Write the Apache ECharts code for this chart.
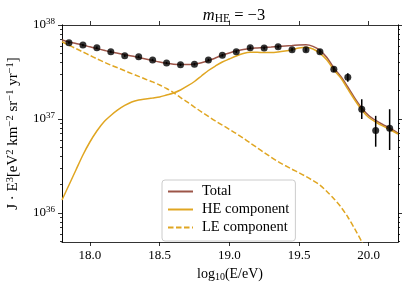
<!DOCTYPE html>
<html><head><meta charset="utf-8">
<script src="https://cdn.jsdelivr.net/npm/echarts@6/dist/echarts.min.js"></script>
<style>html,body{margin:0;padding:0;background:#fff}#c{width:407px;height:288px}</style>
</head><body><div id="c"></div>
<script>
// ---- data ----
const obsLogE = [17.85,17.95,18.05,18.15,18.25,18.35,18.45,18.55,18.65,18.75,18.85,18.95,19.05,19.15,19.25,19.35,19.45,19.55,19.65,19.75,19.85,19.95,20.05,20.15];
const obsFlux = [6.48e37,6.12e37,5.73e37,5.20e37,4.71e37,4.60e37,4.25e37,3.94e37,3.78e37,3.82e37,4.25e37,4.76e37,5.20e37,5.73e37,5.69e37,5.87e37,5.46e37,5.46e37,5.20e37,3.38e37,2.78e37,1.27e37,7.52e36,7.96e36];
const obsErrLo = [6.3e37,5.95e37,5.57e37,5.06e37,4.58e37,4.47e37,4.13e37,3.83e37,3.67e37,3.71e37,4.12e37,4.61e37,5.03e37,5.53e37,5.48e37,5.64e37,5.22e37,5.20e37,4.92e37,3.17e37,2.49e37,1.00e37,5.07e36,4.68e36];
const obsErrHi = [6.66e37,6.29e37,5.89e37,5.34e37,4.84e37,4.73e37,4.37e37,4.05e37,3.89e37,3.93e37,4.38e37,4.91e37,5.37e37,5.93e37,5.90e37,6.10e37,5.70e37,5.72e37,5.48e37,3.60e37,3.06e37,1.62e37,1.08e37,1.27e37];

const modelLogE = [17.80,17.85,17.90,17.95,18.00,18.05,18.10,18.15,18.20,18.25,18.30,18.35,18.40,18.45,18.50,18.55,18.60,18.65,18.70,18.75,18.80,18.85,18.90,18.95,19.00,19.05,19.10,19.15,19.20,19.25,19.30,19.35,19.40,19.45,19.50,19.55,19.60,19.65,19.70,19.75,19.80,19.85,19.90,19.95,20.00,20.05,20.10,20.15,20.21];
const totalFlux = [6.92e37,6.59e37,6.35e37,6.12e37,5.86e37,5.62e37,5.39e37,5.16e37,5.00e37,4.83e37,4.68e37,4.51e37,4.35e37,4.19e37,4.04e37,3.92e37,3.83e37,3.79e37,3.79e37,3.85e37,3.97e37,4.17e37,4.46e37,4.76e37,5.04e37,5.29e37,5.48e37,5.62e37,5.70e37,5.77e37,5.83e37,5.90e37,5.98e37,6.05e37,6.14e37,6.15e37,5.93e37,5.38e37,4.51e37,3.49e37,2.83e37,2.19e37,1.67e37,1.31e37,1.089e37,9.64e36,8.74e36,8.02e36,7.05e36];
const heFlux = [1.374e36,1.986e36,2.866e36,4.14e36,5.69e36,7.45e36,9.29e36,1.089e37,1.247e37,1.393e37,1.518e37,1.593e37,1.633e37,1.672e37,1.714e37,1.799e37,1.890e37,2.035e37,2.245e37,2.506e37,2.866e37,3.28e37,3.66e37,4.04e37,4.35e37,4.68e37,4.98e37,5.14e37,5.13e37,5.09e37,5.09e37,5.16e37,5.29e37,5.46e37,5.69e37,5.78e37,5.56e37,5.00e37,4.25e37,3.32e37,2.73e37,2.08e37,1.593e37,1.247e37,1.038e37,9.29e36,8.43e36,7.73e36,6.92e36];

const leLogE = [17.80,17.85,17.90,17.95,18.00,18.05,18.10,18.15,18.20,18.25,18.30,18.35,18.40,18.45,18.50,18.55,18.60,18.65,18.70,18.75,18.80,18.85,18.90,18.95,19.00,19.05,19.10,19.15,19.20,19.25,19.30,19.35,19.40,19.45,19.50,19.55,19.60,19.65,19.70,19.75,19.80,19.85,19.90,19.95,20.00];
const leFlux = [6.64e37,6.09e37,5.61e37,5.16e37,4.75e37,4.37e37,4.04e37,3.75e37,3.50e37,3.26e37,3.04e37,2.84e37,2.65e37,2.48e37,2.30e37,2.11e37,1.91e37,1.69e37,1.51e37,1.34e37,1.19e37,1.064e37,9.53e36,8.60e36,7.77e36,7.00e36,6.25e36,5.56e36,4.94e36,4.39e36,3.92e36,3.52e36,3.20e36,2.92e36,2.68e36,2.44e36,2.21e36,1.98e36,1.69e36,1.42e36,1.16e36,9.06e35,6.76e35,4.95e35,3.49e35];

const xTicks = [18.0,18.5,19.0,19.5,20.0];
const yMajor = [1e36,1e37,1e38];
const yMinor = [5e35,6e35,7e35,8e35,9e35,2e36,3e36,4e36,5e36,6e36,7e36,8e36,9e36,2e37,3e37,4e37,5e37,6e37,7e37,8e37,9e37];
const seriesNames = ['Total','HE component','LE component'];

// ---- chart ----
const FF = "'Liberation Serif','DejaVu Serif',serif";
const C_TOTAL = '#9c5548', C_HE = '#e0a622';
const XMIN = 17.8, XMAX = 20.21, YMIN = 4.91e35, YMAX = 1e38;
const zip = (a,b) => a.map((v,i)=>[v,b[i]]);

function yAxisDef(pos, major, labels){
  return {
    type:'log', logBase:10, min:YMIN, max:YMAX, position:pos,
    axisLine:{show:true, onZero:false, lineStyle:{color:'#000', width:0.8}},
    axisTick:{show:true, inside:false, length: major?4:2, customValues: major?yMajor:yMinor, lineStyle:{color:'#000', width:0.8}},
    axisLabel:{show:labels, customValues: yMajor, margin:7, color:'#000', fontFamily:FF, fontSize:13,
      formatter: v => '{b|10}{s|' + Math.round(Math.log10(v)) + '}',
      rich:{ b:{fontFamily:FF, fontSize:13, color:'#000', lineHeight:16}, s:{fontFamily:FF, fontSize:9, color:'#000', verticalAlign:'top', lineHeight:9} } },
    splitLine:{show:false}, minorTick:{show:false}, minorSplitLine:{show:false},
    name: labels ? '{n|J · E}{s|3}{n|[eV}{s|2}{n| km}{s|−2}{n| sr}{s|−1}{n| yr}{s|−1}{n|]}' : '',
    nameLocation:'middle', nameGap:40,
    nameTextStyle:{ rich:{ n:{fontFamily:FF, fontSize:15, color:'#000', lineHeight:17}, s:{fontFamily:FF, fontSize:10.5, color:'#000', verticalAlign:'top', lineHeight:10} } }
  };
}
function xAxisDef(pos, labels){
  return {
    type:'value', min:XMIN, max:XMAX, position:pos,
    axisLine:{show:true, onZero:false, lineStyle:{color:'#000', width:0.8}},
    axisTick:{show:true, inside:false, length:4, customValues:xTicks, lineStyle:{color:'#000', width:0.8}},
    axisLabel:{show:labels, customValues:xTicks, margin:7, color:'#000', fontFamily:FF, fontSize:13, formatter: v => v.toFixed(1)},
    splitLine:{show:false},
    name: labels ? '{n|log}{b|10}{n|(E/eV)}' : '',
    nameLocation:'middle', nameGap:20,
    nameTextStyle:{ rich:{ n:{fontFamily:FF, fontSize:14, color:'#000', lineHeight:17}, b:{fontFamily:FF, fontSize:10, color:'#000', verticalAlign:'bottom', lineHeight:10} } }
  };
}

const chart = echarts.init(document.getElementById('c'), null, {renderer:'canvas', width:407, height:288});
chart.setOption({
  backgroundColor:'#fff',
  animation:false,
  title:{
    text:'{i|m}{s|HE}{n| = −3}', left:229, top:2, textAlign:'center',
    textStyle:{ fontWeight:'normal', rich:{ i:{fontFamily:FF, fontStyle:'italic', fontWeight:'normal', fontSize:16.5, color:'#000', lineHeight:18}, s:{fontFamily:FF, fontWeight:'normal', fontSize:11.5, color:'#000', verticalAlign:'bottom', lineHeight:12}, n:{fontFamily:FF, fontWeight:'normal', fontSize:16.5, color:'#000', lineHeight:18} } }
  },
  grid:{left:62, right:9, top:25, bottom:46, containLabel:false, outerBoundsMode:'none'},
  xAxis:[xAxisDef('bottom', true), xAxisDef('top', false)],
  yAxis:[yAxisDef('left', true, true), yAxisDef('left', false, false), yAxisDef('right', true, false), yAxisDef('right', false, false)],
  legend:{
    data:seriesNames, orient:'vertical', left:162, top:180,
    padding:[4,6,6,5], itemGap:3, itemWidth:25, itemHeight:14,
    itemStyle:{opacity:0},
    backgroundColor:'rgba(255,255,255,0.85)', borderColor:'#cccccc', borderWidth:1, borderRadius:3,
    textStyle:{fontFamily:FF, fontSize:14.5, color:'#000', padding:[0,0,0,4], lineHeight:14},
    selectedMode:false
  },
  series:[
    {name:'Total', type:'line', data:zip(modelLogE,totalFlux), symbol:'none', smooth:0.3, lineStyle:{color:C_TOTAL, width:1.5}, itemStyle:{color:C_TOTAL}, z:2},
    {name:'HE component', type:'line', data:zip(modelLogE,heFlux), symbol:'none', smooth:0.3, lineStyle:{color:C_HE, width:1.5}, itemStyle:{color:C_HE}, z:3},
    {name:'LE component', type:'line', data:zip(leLogE,leFlux), symbol:'none', smooth:0.3, lineStyle:{color:C_HE, width:1.5, type:[5.5,2.5]}, itemStyle:{color:C_HE}, z:3},
    {name:'err', type:'custom', data:obsLogE.map((x,i)=>[x,obsErrLo[i],obsErrHi[i]]), encode:{x:0, y:[1,2]}, z:5,
      renderItem:(params, api) => {
        const p1 = api.coord([api.value(0), api.value(1)]);
        const p2 = api.coord([api.value(0), api.value(2)]);
        return {type:'line', shape:{x1:p1[0], y1:p1[1], x2:p2[0], y2:p2[1]}, style:{stroke:'#000', lineWidth:1.5}};
      }},
    {name:'data', type:'scatter', data:zip(obsLogE,obsFlux), symbol:'circle', symbolSize:7, itemStyle:{color:'#000'}, z:6}
  ]
});
</script>
</body></html>
